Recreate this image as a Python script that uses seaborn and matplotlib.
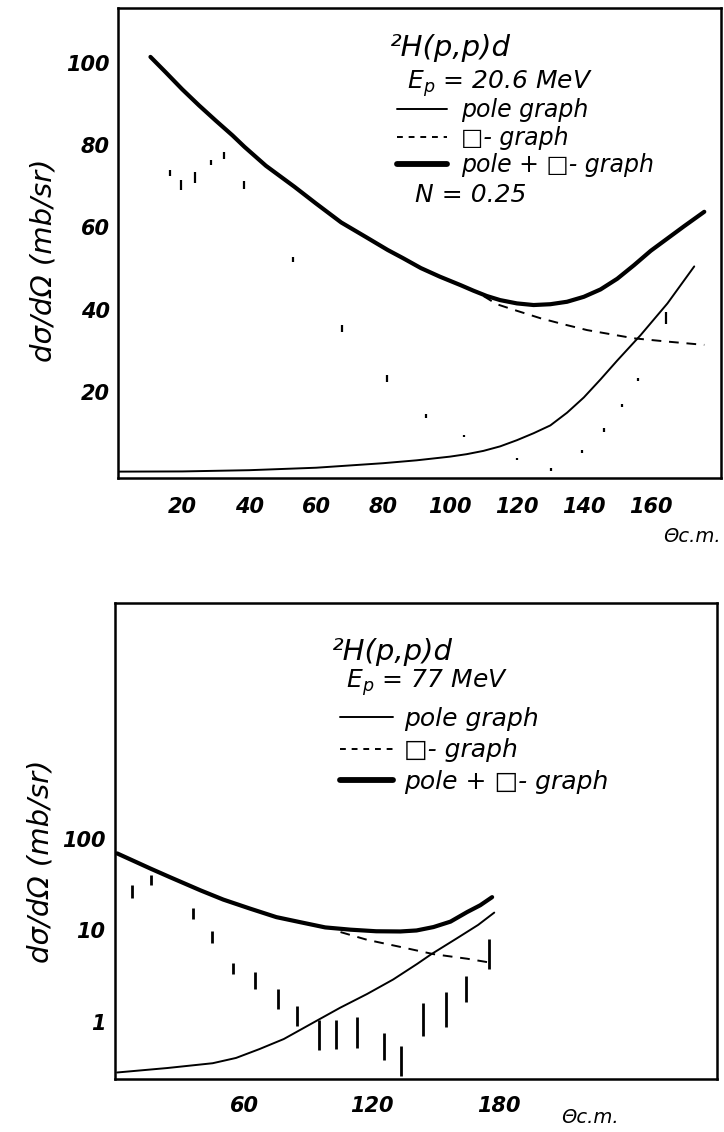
import numpy as np
import pandas as pd
import matplotlib
matplotlib.use("Agg")
import matplotlib.pyplot as plt
import seaborn as sns
from matplotlib.lines import Line2D
from matplotlib.ticker import NullLocator, FixedLocator, FixedFormatter

# ---------------- data: top panel (Ep = 20.6 MeV, linear) ----------------
top_pole_x = [0, 20, 40, 60, 80, 90, 100, 105, 110, 115, 120, 125, 130, 135, 140, 145, 150, 157, 165, 173]
top_pole_y = [0.55, 0.6, 0.9, 1.5, 2.6, 3.3, 4.2, 4.8, 5.6, 6.7, 8.2, 9.9, 11.8, 14.9, 18.6, 23.0, 27.6, 33.8, 41.5, 50.5]

top_box_x = [110, 114, 120, 127, 134, 141, 148, 155, 165, 176]
top_box_y = [43.3, 41.3, 39.7, 37.9, 36.4, 35.0, 34.0, 33.0, 32.2, 31.4]

top_sum_x = [10.5, 15, 20, 25, 30, 35, 38.6, 45, 53.5, 60, 67.5, 75, 81.4, 86, 91.3, 97, 103.3, 107, 111, 115,
             120, 125, 130, 135, 140, 145, 150, 155, 160, 165, 170, 176]
top_sum_y = [101.5, 97.8, 93.6, 89.7, 86.0, 82.4, 79.6, 75.0, 69.9, 65.8, 61.2, 57.6, 54.5, 52.5, 50.1, 48.0, 45.9, 44.6, 43.3, 42.3,
             41.5, 41.1, 41.3, 41.9, 43.1, 44.9, 47.5, 50.8, 54.3, 57.3, 60.3, 63.8]

top_exp_x = [16.4, 19.7, 23.9, 28.7, 32.4, 38.6, 53.1, 67.7, 81.1, 92.8, 104.3, 120.0, 130.2, 139.6, 146.0, 151.4, 156.1, 164.7]
top_exp_y = [73.3, 70.3, 72.2, 75.8, 77.5, 70.3, 52.1, 35.4, 23.2, 14.1, 9.2, 3.6, 1.0, 5.5, 10.7, 16.7, 22.9, 38.0]
top_exp_err = [0.7, 1.3, 1.3, 0.7, 0.8, 0.9, 0.6, 0.8, 0.9, 0.5, 0.3, 0.3, 0.4, 0.35, 0.4, 0.4, 0.4, 1.5]

top_xticks = [20, 40, 60, 80, 100, 120, 140, 160]
top_yticks = [20, 40, 60, 80, 100]

# ---------------- data: bottom panel (Ep = 77 MeV, log) ----------------
bot_pole_x = [0, 23.6, 45, 56, 67, 78.5, 94.2, 105, 117.7, 130, 141.3, 148, 160, 170, 177.6]
bot_pole_y = [0.277, 0.31, 0.35, 0.40, 0.50, 0.645, 1.03, 1.42, 2.01, 2.9, 4.3, 5.5, 8.2, 11.5, 15.7]

bot_box_x = [105.2, 117.7, 133.4, 149, 164.8, 174.2]
bot_box_y = [9.6, 7.9, 6.6, 5.5, 4.9, 4.5]

bot_sum_x = [0, 8, 15.8, 25, 39.3, 50, 62.8, 75, 86.4, 98, 109.9, 122, 133.4, 141, 149, 157, 164.8, 171, 176.6]
bot_sum_y = [70.0, 57.6, 47.6, 38.3, 27.5, 21.8, 17.3, 14.0, 12.3, 10.8, 10.2, 9.8, 9.75, 10.0, 10.9, 12.5, 15.9, 18.9, 23.2]

bot_exp_x = [6.8, 16.1, 35.8, 44.9, 54.7, 64.7, 75.7, 84.8, 95.1, 102.9, 112.8, 125.7, 133.9, 144.2, 154.7, 164.1, 175.1]
bot_exp_lo = [22.9, 31.2, 13.4, 7.3, 3.34, 2.29, 1.38, 0.9, 0.49, 0.50, 0.52, 0.38, 0.255, 0.70, 0.87, 1.63, 3.8]
bot_exp_hi = [31.2, 40.2, 17.6, 9.8, 4.37, 3.48, 2.29, 1.5, 1.03, 1.04, 1.13, 0.76, 0.54, 1.59, 2.1, 3.2, 8.1]

bot_xticks = [60, 120, 180]
bot_yticks = [1, 10, 100]

legend_labels = ["pole graph", "\u25a1- graph", "pole + \u25a1- graph"]

# ---------------- style ----------------
sns.set_style("white")
plt.rcParams['font.family'] = ['DejaVu Sans']
plt.rcParams['mathtext.fontset'] = 'dejavusans'
for k in ['text.color', 'axes.labelcolor', 'xtick.color', 'ytick.color']:
    plt.rcParams[k] = 'black'

fig = plt.figure(figsize=(7.24, 11.32), dpi=100)
ax1 = fig.add_axes([118/724, 1 - 478/1132, (721-118)/724, (478-8)/1132])
ax2 = fig.add_axes([115/724, 1 - 1079/1132, (717-115)/724, (1079-603)/1132])

THIN, THICK, DASH = 1.4, 3.0, 1.4

def curves(ax, px, py, bx, by, sx, sy):
    sns.lineplot(x=px, y=py, ax=ax, color='black', lw=THIN, sort=False, estimator=None)
    sns.lineplot(x=bx, y=by, ax=ax, color='black', lw=DASH, sort=False, estimator=None,
                 linestyle=(0, (5, 4)))
    sns.lineplot(x=sx, y=sy, ax=ax, color='black', lw=THICK, sort=False, estimator=None,
                 solid_capstyle='round', solid_joinstyle='round')

def frame(ax):
    for s in ax.spines.values():
        s.set_visible(True)
        s.set_color('black')
        s.set_linewidth(1.8)
    ax.tick_params(direction='in', length=7, width=1.6, colors='black')

tick_font = dict(fontsize=15, fontweight='bold', fontstyle='italic')

def legend_handles():
    return [Line2D([], [], color='black', lw=THIN),
            Line2D([], [], color='black', lw=DASH, linestyle=(0, (3, 3))),
            Line2D([], [], color='black', lw=THICK + 1.2)]

# ---- top ----
curves(ax1, top_pole_x, top_pole_y, top_box_x, top_box_y, top_sum_x, top_sum_y)
ax1.vlines(top_exp_x, np.array(top_exp_y) - np.array(top_exp_err),
           np.array(top_exp_y) + np.array(top_exp_err), color='black', lw=1.6)
ax1.set_xlim(0.8, 181)
ax1.set_ylim(-1, 113.4)
frame(ax1)
ax1.set_xticks(top_xticks)
ax1.set_xticklabels([str(t) for t in top_xticks], **tick_font)
ax1.set_yticks(top_yticks)
ax1.set_yticklabels([str(t) for t in top_yticks], **tick_font)
ax1.tick_params(axis='x', pad=14)
ax1.tick_params(axis='y', pad=6)
ax1.set_xlabel("\u0398c.m.", fontsize=14, fontstyle='italic')
ax1.xaxis.set_label_coords(0.952, -0.105)
ax1.set_ylabel("d\u03c3/d\u03a9 (mb/sr)", fontsize=21, fontstyle='italic')
ax1.yaxis.set_label_coords(-0.10, 0.464)

ax1.text(0.451, 0.915, "\u00b2H(p,p)d", transform=ax1.transAxes, fontsize=21,
         ha='left', va='center', fontstyle='italic')
ax1.text(0.479, 0.840, "E$_p$ = 20.6 MeV", transform=ax1.transAxes, fontsize=18,
         ha='left', va='center', fontstyle='italic')
ax1.text(0.4925, 0.602, "N = 0.25", transform=ax1.transAxes, fontsize=18,
         ha='left', va='center', fontstyle='italic')

ax1.legend(legend_handles(), legend_labels, loc='upper left',
           bbox_to_anchor=(0.463, 0.808), frameon=False, borderpad=0, borderaxespad=0,
           handlelength=2.1, handletextpad=0.6, labelspacing=0.15,
           prop=dict(size=17, style='italic'))

# ---- bottom ----
curves(ax2, bot_pole_x, bot_pole_y, bot_box_x, bot_box_y, bot_sum_x, bot_sum_y)
ax2.vlines(bot_exp_x, bot_exp_lo, bot_exp_hi, color='black', lw=2.0)
ax2.set_yscale('log')
ax2.set_xlim(-1, 282.5)
ax2.set_ylim(0.235, 39000)
frame(ax2)
ax2.yaxis.set_major_locator(FixedLocator(bot_yticks))
ax2.yaxis.set_major_formatter(FixedFormatter([str(t) for t in bot_yticks]))
ax2.yaxis.set_minor_locator(NullLocator())
for lbl in ax2.get_yticklabels():
    lbl.set_fontsize(15); lbl.set_fontweight('bold'); lbl.set_fontstyle('italic')
ax2.set_xticks(bot_xticks)
ax2.set_xticklabels([str(t) for t in bot_xticks], **tick_font)
ax2.tick_params(axis='x', pad=12)
ax2.tick_params(axis='y', pad=7)
ax2.set_xlabel("\u0398c.m.", fontsize=14, fontstyle='italic')
ax2.xaxis.set_label_coords(0.79, -0.061)
ax2.set_ylabel("d\u03c3/d\u03a9 (mb/sr)", fontsize=21, fontstyle='italic')
ax2.yaxis.set_label_coords(-0.10, 0.458)

ax2.text(0.36, 0.897, "\u00b2H(p,p)d", transform=ax2.transAxes, fontsize=21,
         ha='left', va='center', fontstyle='italic')
ax2.text(0.384, 0.832, "E$_p$ = 77 MeV", transform=ax2.transAxes, fontsize=18,
         ha='left', va='center', fontstyle='italic')
ax2.legend(legend_handles(), legend_labels, loc='upper left',
           bbox_to_anchor=(0.374, 0.782), frameon=False, borderpad=0, borderaxespad=0,
           handlelength=2.1, handletextpad=0.45, labelspacing=0.3,
           prop=dict(size=18, style='italic'))

fig.savefig("out.png", dpi=100)
